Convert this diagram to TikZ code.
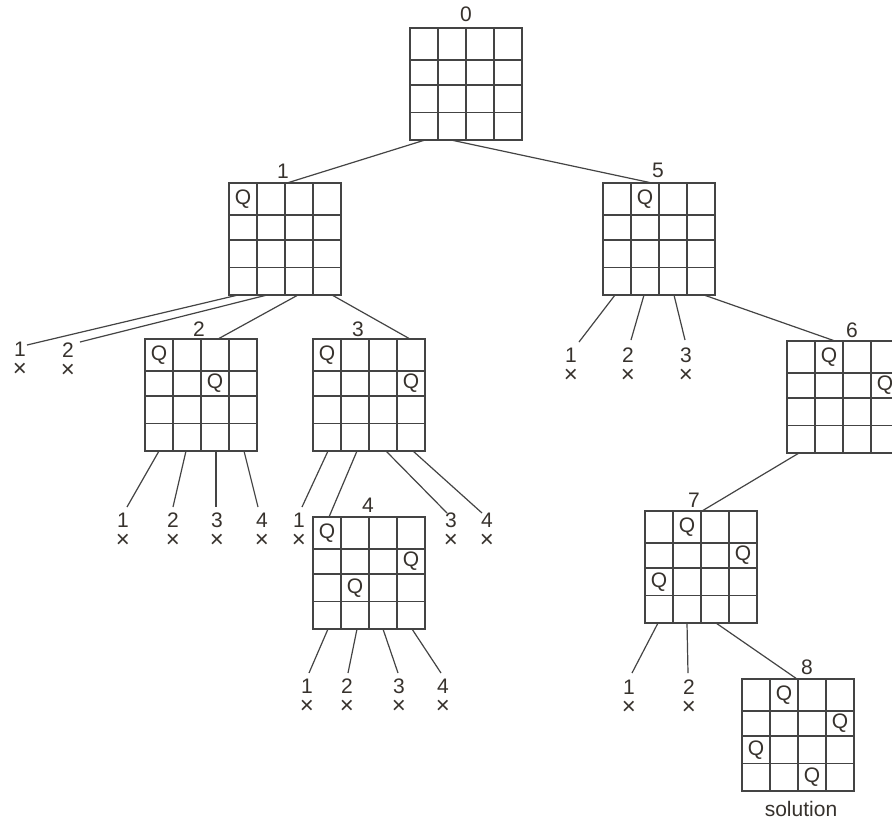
\documentclass[tikz,border=0pt]{standalone}
\usepackage{fontspec}
\setmainfont{Liberation Sans}
\definecolor{linec}{RGB}{68,68,68}
\definecolor{textc}{RGB}{55,50,45}
\tikzset{
 boardbox/.style={draw=linec, line width=1.1pt, minimum width=112pt, minimum height=112pt, inner sep=0pt, outer sep=0pt, anchor=north west},
 gridline/.style={draw=linec, line width=1.1pt},
 edge/.style={draw=linec, line width=1.2pt},
 txt/.style={text=textc, font=\fontsize{21}{24}\selectfont, inner sep=0pt},
 queen/.style={txt},
 leafnode/.style={text=textc, font=\fontsize{21}{20}\selectfont, inner sep=0pt, align=center, anchor=north},
}
\newcommand\crsx{{\fontsize{24}{20}\selectfont ×}}
\newcommand\qboard[3]{%
 \foreach \k in {28,56,84} {\draw[gridline] (#2+\k,#3) -- (#2+\k,#3+112);}
 \foreach \k in {32,57,84.5} {\draw[gridline] (#2,#3+\k) -- (#2+112,#3+\k);}
 \node[boardbox] (#1) at (#2,#3) {};
}
\newcommand\qqueens[3]{%
 \foreach \c/\r in {#3} {\pgfmathsetmacro\yc{{16,44.5,70.75,98.25}[\r]}\node[queen] at (#1+28*\c+14,#2+\yc) {Q};}
}
\newcommand\qleaf[4]{%
 \node[leafnode] (#1) at (#2,#3-7.5) {#4\\\crsx};
}
\begin{document}
\begin{tikzpicture}[x=1pt,y=-1pt]
\path[use as bounding box, clip] (0,0) rectangle (892,823);
\fill[white] (0,0) rectangle (892,823);

% boards
\qboard{b0}{410}{28}
\qboard{b1}{229}{183} \qqueens{229}{183}{0/0}
\qboard{b5}{603}{183} \qqueens{603}{183}{1/0}
\qboard{b2}{145}{339} \qqueens{145}{339}{0/0,2/1}
\qboard{b3}{313}{339} \qqueens{313}{339}{0/0,3/1}
\qboard{b6}{787}{341} \qqueens{787}{341}{1/0,3/1}
\qboard{b4}{313}{517} \qqueens{313}{517}{0/0,3/1,1/2}
\qboard{b7}{645}{511} \qqueens{645}{511}{1/0,3/1,0/2}
\qboard{b8}{742}{679} \qqueens{742}{679}{1/0,3/1,0/2,2/3}

% board labels
\node[txt] (n0) at (466,14) {0};
\node[txt] (n1) at (283,171) {1};
\node[txt] (n5) at (658,170) {5};
\node[txt] (n2) at (199,329) {2};
\node[txt] (n3) at (358,329) {3};
\node[txt] (n6) at (852,330) {6};
\node[txt] (n4) at (368,505) {4};
\node[txt] (n7) at (694,500) {7};
\node[txt] (n8) at (807,667) {8};
\node[txt] (sol) at (801,809) {solution};

% leaves
\qleaf{a1}{20}{349}{1}
\qleaf{a2}{68}{350}{2}
\qleaf{f1}{571}{355}{1}
\qleaf{f2}{628}{355}{2}
\qleaf{f3}{686}{355}{3}
\qleaf{c1}{123}{520}{1}
\qleaf{c2}{173}{520}{2}
\qleaf{c3}{217}{520}{3}
\qleaf{c4}{262}{520}{4}
\qleaf{d1}{299}{520}{1}
\qleaf{d3}{451}{520}{3}
\qleaf{d4}{487}{520}{4}
\qleaf{g1}{307}{686}{1}
\qleaf{g2}{347}{686}{2}
\qleaf{g3}{399}{686}{3}
\qleaf{g4}{443}{686}{4}
\qleaf{h1}{629}{687}{1}
\qleaf{h2}{689}{687}{2}

% line ends at leaves
\coordinate (ea1) at (27,345);
\coordinate (ea2) at (80,342);
\coordinate (ef1) at (579,342);
\coordinate (ef2) at (631,340);
\coordinate (ef3) at (685,340);
\coordinate (ec1) at (127,507);
\coordinate (ec2) at (173,507);
\coordinate (ec3) at (216,507);
\coordinate (ec4) at (258,507);
\coordinate (ed1) at (302,507);
\coordinate (ed3) at (447,513);
\coordinate (ed4) at (482,513);
\coordinate (eg1) at (309,673);
\coordinate (eg2) at (348,673);
\coordinate (eg3) at (398,673);
\coordinate (eg4) at (441,673);
\coordinate (eh1) at (632,673);
\coordinate (eh2) at (688,673);

% edges
\draw[edge] ([xshift=15pt]b0.south west) -- ([xshift=58pt]b1.north west);
\draw[edge] ([xshift=41pt]b0.south west) -- ([xshift=49pt]b5.north west);

\draw[edge] ([xshift=9pt]b1.south west) -- (ea1);
\draw[edge] ([xshift=38pt]b1.south west) -- (ea2);
\draw[edge] ([xshift=69pt]b1.south west) -- ([xshift=73pt]b2.north west);
\draw[edge] ([xshift=103pt]b1.south west) -- ([xshift=97pt]b3.north west);

\draw[edge] ([xshift=12pt]b5.south west) -- (ef1);
\draw[edge] ([xshift=41pt]b5.south west) -- (ef2);
\draw[edge] ([xshift=71pt]b5.south west) -- (ef3);
\draw[edge] ([xshift=101pt]b5.south west) -- ([xshift=48pt]b6.north west);

\draw[edge] ([xshift=12pt]b6.south west) -- ([xshift=57pt]b7.north west);

\draw[edge] ([xshift=14pt]b2.south west) -- (ec1);
\draw[edge] ([xshift=41pt]b2.south west) -- (ec2);
\draw[edge] ([xshift=71pt]b2.south west) -- (ec3);
\draw[edge] ([xshift=99pt]b2.south west) -- (ec4);

\draw[edge] ([xshift=15pt]b3.south west) -- (ed1);
\draw[edge] ([xshift=44pt]b3.south west) -- ([xshift=16pt]b4.north west);
\draw[edge] ([xshift=73pt]b3.south west) -- (ed3);
\draw[edge] ([xshift=100pt]b3.south west) -- (ed4);

\draw[edge] ([xshift=15pt]b4.south west) -- (eg1);
\draw[edge] ([xshift=44pt]b4.south west) -- (eg2);
\draw[edge] ([xshift=70pt]b4.south west) -- (eg3);
\draw[edge] ([xshift=99pt]b4.south west) -- (eg4);

\draw[edge] ([xshift=13pt]b7.south west) -- (eh1);
\draw[edge] ([xshift=42pt]b7.south west) -- (eh2);
\draw[edge] ([xshift=71pt]b7.south west) -- ([xshift=55pt]b8.north west);
\end{tikzpicture}
\end{document}
